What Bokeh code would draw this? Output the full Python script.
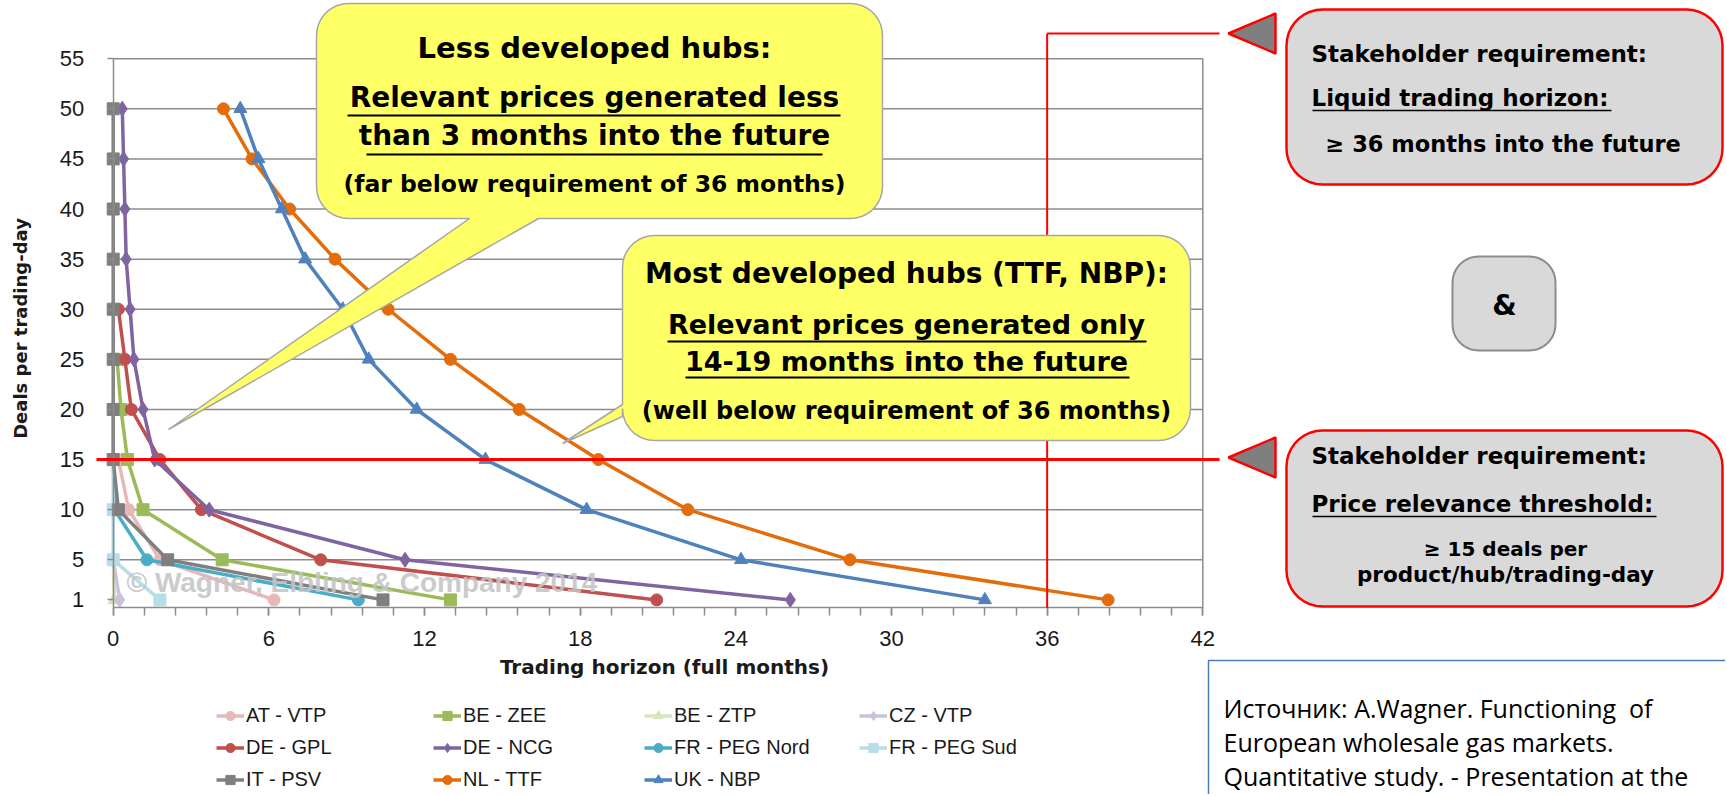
import numpy as np
from bokeh.plotting import figure
from bokeh.models import (Range1d, FixedTicker, Label, PolyAnnotation, Arrow, Legend,
                          LegendItem, LinearAxis)
from bokeh.embed import file_html
from bokeh.resources import INLINE

# ---------------- data ----------------
hubs = ["AT - VTP", "BE - ZEE", "BE - ZTP", "CZ - VTP", "DE - GPL", "DE - NCG",
        "FR - PEG Nord", "FR - PEG Sud", "IT - PSV", "NL - TTF", "UK - NBP"]

at_vtp_x = [0.2, 0.6, 1.8, 6.2]
at_vtp_y = [15, 10, 5, 1]
be_zee_x = [0.15, 0.3, 0.55, 1.15, 4.2, 13.0]
be_zee_y = [25, 20, 15, 10, 5, 1]
be_ztp_x = [0.0, 0.05]
be_ztp_y = [5, 1]
cz_vtp_x = [0.0, 0.25]
cz_vtp_y = [5, 1]
de_gpl_x = [0.2, 0.45, 0.7, 1.8, 3.4, 8.0, 20.95]
de_gpl_y = [30, 25, 20, 15, 10, 5, 1]
de_ncg_x = [0.35, 0.4, 0.45, 0.5, 0.65, 0.8, 1.15, 1.6, 3.7, 11.25, 26.1]
de_ncg_y = [50, 45, 40, 35, 30, 25, 20, 15, 10, 5, 1]
fr_nord_x = [0.0, 0.05, 1.3, 9.45]
fr_nord_y = [15, 10, 5, 1]
fr_sud_x = [0.0, 0.0, 0.0, 0.0, 1.8]
fr_sud_y = [20, 15, 10, 5, 1]
it_psv_x = [0.0, 0.0, 0.0, 0.0, 0.0, 0.0, 0.0, 0.0, 0.2, 2.1, 10.4]
it_psv_y = [50, 45, 40, 35, 30, 25, 20, 15, 10, 5, 1]
nl_ttf_x = [4.25, 5.35, 6.8, 8.55, 10.6, 13.0, 15.65, 18.7, 22.15, 28.4, 38.35]
nl_ttf_y = [50, 45, 40, 35, 30, 25, 20, 15, 10, 5, 1]
uk_nbp_x = [4.9, 5.6, 6.5, 7.4, 8.85, 9.85, 11.7, 14.35, 18.25, 24.2, 33.6]
uk_nbp_y = [50, 45, 40, 35, 30, 25, 20, 15, 10, 5, 1]

series_x = [at_vtp_x, be_zee_x, be_ztp_x, cz_vtp_x, de_gpl_x, de_ncg_x,
            fr_nord_x, fr_sud_x, it_psv_x, nl_ttf_x, uk_nbp_x]
series_y = [at_vtp_y, be_zee_y, be_ztp_y, cz_vtp_y, de_gpl_y, de_ncg_y,
            fr_nord_y, fr_sud_y, it_psv_y, nl_ttf_y, uk_nbp_y]
colors = ["#E6B9B8", "#9BBB59", "#D7E4BD", "#CCC1DA", "#C0504D", "#8064A2",
          "#4BACC6", "#B7DEE8", "#7F7F7F", "#E46C0A", "#4F81BD"]
markers = ["circle", "square", "triangle", "diamond", "circle", "diamond",
           "circle", "square", "square", "circle", "triangle"]
msizes = [12, 12, 13, 15, 12, 15, 12, 12, 12, 12, 13]

x_ticks = [0, 6, 12, 18, 24, 30, 36, 42]
y_ticks = [1, 5, 10, 15, 20, 25, 30, 35, 40, 45, 50, 55]
grid_y = [5, 10, 15, 20, 25, 30, 35, 40, 45, 50, 55]
threshold_deals = 15
required_months = 36
XMIN, XMAX = 0, 42
YMIN, YMAX = 0.2, 55

# ---------------- layout ----------------
W, H = 1725, 794
# where the data window sits on the canvas (pixels)
X0PX, X42PX = 112.7, 1202.3
Y50PX, Y5PX = 108.3, 559.3
SX = (X42PX - X0PX) / 42.0
SY = (Y5PX - Y50PX) / 45.0

def dx(px):
    return (px - X0PX) / SX

def dy(py):
    return 50 + (Y50PX - py) / SY

p = figure(width=W, height=H, x_range=Range1d(dx(0), dx(W)), y_range=Range1d(dy(H), dy(0)),
           output_backend="svg", toolbar_location=None,
           x_axis_location=None, y_axis_location=None,
           min_border=0, min_border_left=0, min_border_right=0,
           min_border_top=0, min_border_bottom=0)
p.background_fill_color = "white"
p.border_fill_color = "white"
p.outline_line_color = None
p.xgrid.visible = False
p.ygrid.visible = False

GRAY = "#8C8C8C"
# grid lines and plot-area border
p.segment(x0=[XMIN] * len(grid_y), y0=grid_y, x1=[XMAX] * len(grid_y), y1=grid_y,
          line_color=GRAY, line_width=1.5, level="underlay")
p.segment(x0=[XMAX], y0=[YMIN], x1=[XMAX], y1=[YMAX], line_color=GRAY, line_width=1.5,
          level="underlay")

# axes
xax = LinearAxis(fixed_location=YMIN, bounds=(XMIN, XMAX),
                 ticker=FixedTicker(ticks=x_ticks, minor_ticks=[i * 1.2 for i in range(36)]))
yax = LinearAxis(fixed_location=XMIN, bounds=(YMIN, YMAX), ticker=FixedTicker(ticks=y_ticks))
for ax in (xax, yax):
    ax.axis_line_color = GRAY
    ax.axis_line_width = 1.5
    ax.major_tick_line_color = GRAY
    ax.minor_tick_line_color = GRAY
    ax.major_tick_line_width = 1.5
    ax.minor_tick_line_width = 1.5
    ax.major_tick_in = 0
    ax.minor_tick_in = 0
    ax.major_label_text_font = "Liberation Sans"
    ax.major_label_text_font_size = "22px"
    ax.major_label_text_color = "#1A1A1A"
xax.major_tick_out = 8
xax.minor_tick_out = 8
xax.major_label_standoff = 15
yax.major_tick_out = 6
yax.minor_tick_out = 0
yax.major_label_standoff = 23
p.add_layout(xax, "below")
p.add_layout(yax, "left")

# series
line_r, pt_r = [], []
for xs, ys, c, m, s in zip(series_x, series_y, colors, markers, msizes):
    lr = p.line(xs, ys, line_color=c, line_width=3.5)
    sr = p.scatter(xs, ys, marker=m, size=s, fill_color=c, line_color=c)
    line_r.append(lr)
    pt_r.append(sr)

# ---------------- helpers for decorations ----------------
def rounded(x0, y0, x1, y1, r, bottom_tail=None, left_tail=None, n=10):
    def arc(cx, cy, a0):
        return [(cx + r * np.cos(np.radians(t)), cy + r * np.sin(np.radians(t)))
                for t in np.linspace(a0, a0 + 90, n)]
    pts = arc(x1 - r, y0 + r, -90) + arc(x1 - r, y1 - r, 0)
    if bottom_tail:
        pts += bottom_tail
    pts += arc(x0 + r, y1 - r, 90)
    if left_tail:
        pts += left_tail
    pts += arc(x0 + r, y0 + r, 180)
    return pts

def poly(pts, fill, line, lw):
    p.add_layout(PolyAnnotation(xs=[float(dx(a)) for a, b in pts],
                                ys=[float(dy(b)) for a, b in pts],
                                xs_units="data", ys_units="data", fill_color=fill,
                                fill_alpha=1, line_color=line, line_alpha=1, line_width=lw))

def text(px, py, t, size, align="center", font="DejaVu Sans", style="bold",
         color="#000000", angle=0.0, alpha=1.0):
    p.add_layout(Label(x=dx(px), y=dy(py), text=t, text_font=font,
                       text_font_style=style, text_font_size=size, text_color=color,
                       text_align=align, text_baseline="middle", angle=angle,
                       text_alpha=alpha))

def seg(x0, y0, x1, y1, color, lw):
    p.add_layout(Arrow(end=None, x_start=x0, y_start=y0, x_end=x1, y_end=y1,
                       line_color=color, line_width=lw))

def uline(x0, x1, py, lw=2):
    seg(dx(x0), dy(py), dx(x1), dy(py), "#000000", lw)

# axis titles
text(664, 666, "Trading horizon (full months)", "20px", color="#1A1A1A")
text(20, 328, "Deals per trading-day", "18px", color="#1A1A1A", angle=np.pi / 2)

# watermark
text(126, 582, "\u00a9 Wagner, Elbling & Company 2014", "28px", align="left",
     font="Liberation Sans", color="#C4C4C4", alpha=0.9)

# red requirement lines
RED = "#FF0000"
seg(dx(96), threshold_deals, dx(1219), threshold_deals, RED, 3)
seg(required_months, YMIN, required_months, dy(33), RED, 2)
seg(required_months, dy(33), dx(1219), dy(33), RED, 2)

YEL = "#FFFF66"
# callout 1
poly(rounded(316, 3, 882, 218, 32, bottom_tail=[(538, 218), (168, 429), (469, 218)]),
     YEL, "#A6A6A6", 1.5)
text(594, 47, "Less developed hubs:", "29px")
text(594, 97, "Relevant prices generated less", "28px")
uline(347, 840, 115)
text(594, 135, "than 3 months into the future", "28px")
uline(366, 822, 154)
text(594, 183, "(far below requirement of 36 months)", "23.5px")

# callout 2
poly(rounded(622, 235, 1190, 440, 32, left_tail=[(622, 416), (562, 443), (622, 404)]),
     YEL, "#A6A6A6", 1.5)
text(906, 273, "Most developed hubs (TTF, NBP):", "28px")
text(906, 324, "Relevant prices generated only", "27px")
uline(667, 1146, 341)
text(906, 361, "14-19 months into the future", "27px")
uline(685, 1129, 377)
text(906, 410, "(well below requirement of 36 months)", "24px")

# triangles
poly([(1228, 33), (1275, 13), (1275, 53)], "#7F7F7F", RED, 2.5)
poly([(1228, 457), (1275, 437), (1275, 477)], "#7F7F7F", RED, 2.5)

# right boxes
poly(rounded(1286, 9, 1722, 184, 36), "#D9D9D9", RED, 2.5)
text(1311, 53, "Stakeholder requirement:", "23px", align="left")
text(1311, 97, "Liquid trading horizon:", "23px", align="left")
uline(1312, 1611, 110, 1.5)
text(1325, 143, "\u2265 36 months into the future", "22.5px", align="left")

poly(rounded(1452, 256, 1555, 350, 26), "#D9D9D9", GRAY, 2)
text(1504, 305, "&", "28px")

poly(rounded(1286, 430, 1722, 606, 36), "#D9D9D9", RED, 2.5)
text(1311, 455, "Stakeholder requirement:", "23px", align="left")
text(1311, 503, "Price relevance threshold:", "23px", align="left")
uline(1312, 1656, 516, 1.5)
text(1505, 548, "\u2265 15 deals per", "20px")
text(1505, 574, "product/hub/trading-day", "21.5px")

# source box
poly([(1208, 660), (1760, 660), (1760, 820), (1208, 820)], "#FFFFFF", "#4A7EBB", 1.5)
text(1223, 707, "\u0418\u0441\u0442\u043e\u0447\u043d\u0438\u043a: A.Wagner. Functioning\u00a0 of",
     "25px", align="left", font="Open Sans", style="normal")
text(1223, 741, "European wholesale gas markets.", "25px", align="left", font="Open Sans",
     style="normal")
text(1223, 775, "Quantitative study. - Presentation at the", "25px", align="left",
     font="Open Sans", style="normal")

# ---------------- legend ----------------
cols = [[0, 4, 8], [1, 5, 9], [2, 6, 10], [3, 7]]
col_x = [216, 433, 644, 859]
ROW_TOP = 703.5
RH, SP = 23, 9
for idxs, cx in zip(cols, col_x):
    n = len(idxs)
    hgt = n * RH + (n - 1) * SP
    lg = Legend(items=[LegendItem(label=hubs[i], renderers=[line_r[i], pt_r[i]]) for i in idxs],
                location=(cx, H - (ROW_TOP + hgt)), orientation="vertical",
                glyph_width=28, glyph_height=RH, label_height=RH, spacing=SP,
                padding=0, margin=0, label_standoff=2, border_line_color=None,
                background_fill_alpha=0, label_text_font="Liberation Sans",
                label_text_font_size="20px", label_text_color="#1A1A1A")
    p.add_layout(lg, "center")

open("out.html", "w").write(file_html(p, INLINE))
